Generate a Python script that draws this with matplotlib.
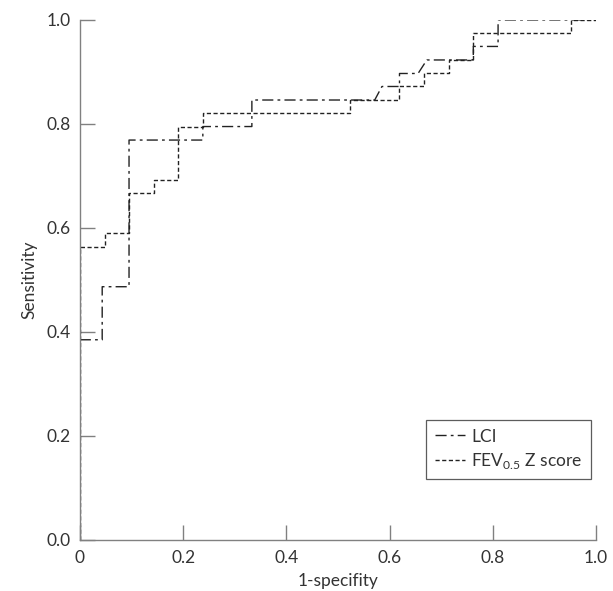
import matplotlib.pyplot as plt

plt.rcParams['font.family'] = ['Lato', 'DejaVu Sans']

# ROC points (1-specificity, sensitivity)
lci_x = [0, 0, 0.043, 0.043, 0.095, 0.095, 0.238, 0.238, 0.333, 0.333,
         0.571, 0.585, 0.619, 0.619, 0.655, 0.672, 0.762, 0.762, 0.81, 0.81, 1.0]
lci_y = [0, 0.385, 0.385, 0.487, 0.487, 0.769, 0.769, 0.795, 0.795, 0.846,
         0.846, 0.872, 0.872, 0.897, 0.897, 0.923, 0.923, 0.949, 0.949, 1.0, 1.0]

fev_x = [0, 0, 0.048, 0.048, 0.095, 0.095, 0.143, 0.143, 0.19, 0.19, 0.238, 0.238,
         0.524, 0.524, 0.619, 0.619, 0.667, 0.667, 0.714, 0.714, 0.762, 0.762,
         0.952, 0.952, 1.0]
fev_y = [0, 0.564, 0.564, 0.590, 0.590, 0.667, 0.667, 0.692, 0.692, 0.795, 0.795, 0.821,
         0.821, 0.846, 0.846, 0.872, 0.872, 0.897, 0.897, 0.923, 0.923, 0.974,
         0.974, 1.0, 1.0]

xticks = [0, 0.2, 0.4, 0.6, 0.8, 1.0]
xlabels = ['0', '0.2', '0.4', '0.6', '0.8', '1.0']
yticks = [0, 0.2, 0.4, 0.6, 0.8, 1.0]
ylabels = ['0.0', '0.2', '0.4', '0.6', '0.8', '1.0']

fs = 12.5

fig = plt.figure(figsize=(6.13, 5.91), dpi=100)
ax = fig.add_axes([0.1305, 0.0863, 0.842, 0.880])

ax.plot(lci_x, lci_y, color='#222222', lw=1.0, dashes=(8, 3, 2, 3), label='LCI')
ax.plot(fev_x, fev_y, color='#222222', lw=1.0, dashes=(3, 1.8),
        label='FEV$_{\\mathregular{0.5}}$ Z score')

ax.set_xlim(0, 1.0)
ax.set_ylim(0, 1.0)
ax.set_xticks(xticks)
ax.set_xticklabels(xlabels)
ax.set_yticks(yticks)
ax.set_yticklabels(ylabels)

for s in ['top', 'right']:
    ax.spines[s].set_visible(False)
for s in ['left', 'bottom']:
    ax.spines[s].set_color('#808080')
    ax.spines[s].set_linewidth(1.0)

ax.tick_params(direction='in', length=10.5, width=1.0, color='#808080',
               labelsize=fs, labelcolor='#333333', pad=7)

ax.set_xlabel('1-specifity', fontsize=fs, color='#333333', labelpad=5)
ax.set_ylabel('Sensitivity', fontsize=fs, color='#333333', labelpad=6)

leg = ax.legend(loc='upper right', bbox_to_anchor=(0.99, 0.231), fontsize=fs,
                frameon=True, fancybox=False, handlelength=1.75, handletextpad=0.35,
                borderpad=0.5, labelspacing=0.35, borderaxespad=0)
leg.get_frame().set_edgecolor('#333333')
leg.get_frame().set_linewidth(0.9)
for t in leg.get_texts():
    t.set_color('#333333')

fig.savefig('out.png', dpi=100)
